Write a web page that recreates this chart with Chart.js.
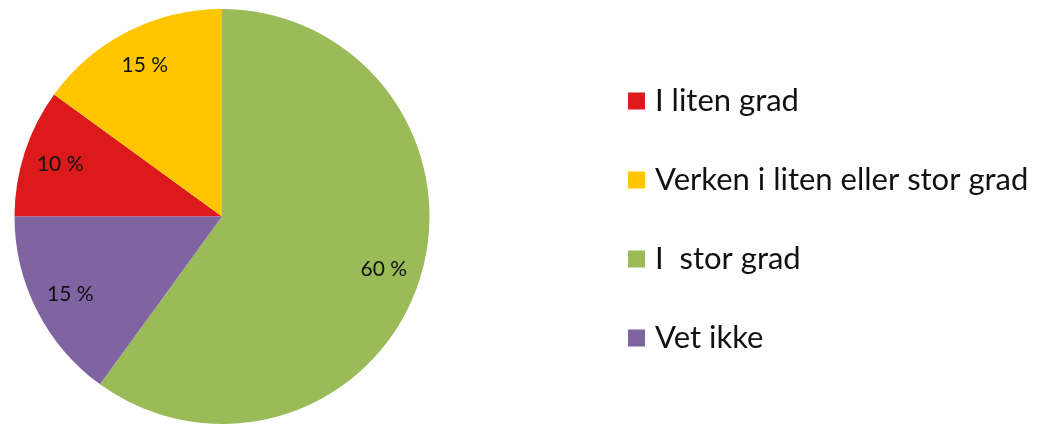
<!DOCTYPE html>
<html lang="no">
<head>
    <meta charset="UTF-8">
    <title>Pie chart</title>
    <script src="https://cdn.jsdelivr.net/npm/chart.js"></script>
    <style>
        body { margin: 0; background: #fff; }
        #wrap { width: 1050px; height: 424px; position: relative; }
    </style>
</head>
<body>
    <div id="wrap"><canvas id="myChart"></canvas></div>

    <script>
        // data
        const categories = ['I liten grad', 'Verken i liten eller stor grad', 'I  stor grad', 'Vet ikke'];
        const shares = [10, 15, 60, 15];
        const sliceLabels = ['10 %', '15 %', '60 %', '15 %'];
        const colors = ['#DC1A1B', '#FFC600', '#9BBB59', '#8064A2'];

        const fontFamily = 'Lato, "Open Sans", sans-serif';

        // labels inside each slice
        const sliceLabelPlugin = {
            id: 'sliceLabels',
            afterDatasetsDraw(chart) {
                const ctx = chart.ctx;
                const meta = chart.getDatasetMeta(0);
                ctx.save();
                ctx.font = '21px ' + fontFamily;
                ctx.fillStyle = '#111';
                ctx.textAlign = 'center';
                ctx.textBaseline = 'middle';
                meta.data.forEach((arc, i) => {
                    const p = arc.getProps(['x', 'y', 'startAngle', 'endAngle', 'outerRadius'], true);
                    const mid = (p.startAngle + p.endAngle) / 2;
                    const r = p.outerRadius * 0.82;
                    ctx.fillText(sliceLabels[i], p.x + Math.cos(mid) * r, p.y + Math.sin(mid) * r);
                });
                ctx.restore();
            }
        };

        // legend on the right, drawn by hand
        const sideLegendPlugin = {
            id: 'sideLegend',
            afterDraw(chart) {
                const ctx = chart.ctx;
                const x0 = 628, y0 = 101, step = 79, box = 17;
                ctx.save();
                ctx.font = '31px ' + fontFamily;
                ctx.textBaseline = 'middle';
                categories.forEach((label, i) => {
                    const y = y0 + i * step;
                    ctx.fillStyle = colors[i];
                    ctx.fillRect(x0, y - box / 2, box, box);
                    ctx.fillStyle = '#111';
                    ctx.fillText(label, x0 + 27, y);
                });
                ctx.restore();
            }
        };

        const ctx = document.getElementById('myChart').getContext('2d');
        const myChart = new Chart(ctx, {
            type: 'pie',
            data: {
                labels: categories,
                datasets: [{
                    data: shares,
                    backgroundColor: colors,
                    borderWidth: 0
                }]
            },
            options: {
                responsive: true,
                maintainAspectRatio: false,
                animation: false,
                rotation: 270,
                layout: { padding: { left: 14, right: 620, top: 9, bottom: 0 } },
                plugins: {
                    legend: { display: false },
                    tooltip: { enabled: false }
                }
            },
            plugins: [sliceLabelPlugin, sideLegendPlugin]
        });
    </script>
</body>
</html>
